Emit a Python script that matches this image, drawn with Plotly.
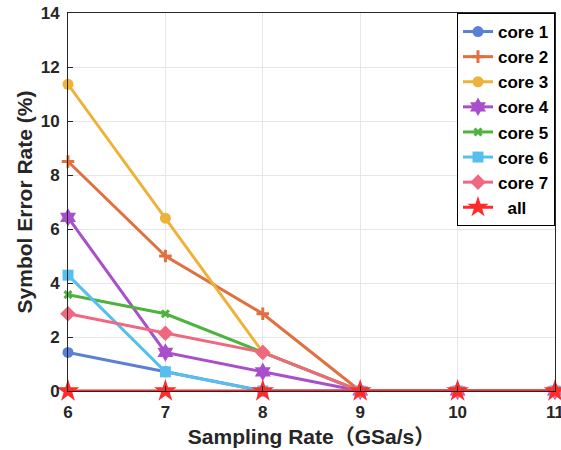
import plotly.graph_objects as go

x = [6, 7, 8, 9, 10, 11]
names = ["core 1", "core 2", "core 3", "core 4", "core 5", "core 6", "core 7", "  all"]
core1 = [1.43, 0.71, 0.0, 0.0, 0.0, 0.0]
core2 = [8.50, 5.00, 2.86, 0.0, 0.0, 0.0]
core3 = [11.36, 6.40, 1.43, 0.0, 0.0, 0.0]
core4 = [6.43, 1.43, 0.71, 0.0, 0.0, 0.0]
core5 = [3.57, 2.86, 1.43, 0.0, 0.0, 0.0]
core6 = [4.29, 0.71, 0.0, 0.0, 0.0, 0.0]
core7 = [2.86, 2.14, 1.43, 0.0, 0.0, 0.0]
all_cores = [0.0, 0.0, 0.0, 0.0, 0.0, 0.0]
series = [core1, core2, core3, core4, core5, core6, core7, all_cores]

colors = ["#5a7fd6", "#e0703f", "#ecb23a", "#a94fcb", "#4db33d", "#56bfee", "#f0687f", "#ff2a2a"]
symbols = ["circle", "cross-thin", "circle", "hexagram", "x-thin", "square", "diamond", "star"]
sizes = [11, 9, 11, 14, 7, 11, 12, 17]

fig = go.Figure()
for n, y, c, s, sz in zip(names, series, colors, symbols, sizes):
    fig.add_trace(go.Scatter(
        x=x, y=y, name=n, mode="lines+markers",
        line=dict(color=c, width=3),
        marker=dict(symbol=s, size=sz, color=c, line=dict(color=c, width=3 if "thin" in s else 0)),
        cliponaxis=False,
    ))

font_fam = "Liberation Sans, Arial, Noto Sans CJK SC, sans-serif"
fig.update_layout(
    width=561, height=450,
    margin=dict(l=68, r=6, t=13, b=59, autoexpand=False),
    paper_bgcolor="white", plot_bgcolor="white",
    font=dict(family=font_fam, size=16, color="#262626"),
    showlegend=True,
    legend=dict(
        x=1, y=1, xanchor="right", yanchor="top",
        bordercolor="black", borderwidth=1, bgcolor="white",
        font=dict(family=font_fam, size=17, color="black", weight="bold"),
        tracegroupgap=0, itemwidth=30,
    ),
    xaxis=dict(
        range=[6, 11], tickvals=x, ticktext=[str(v) for v in x],
        showgrid=True, gridcolor="#e6e6e6", gridwidth=1,
        showline=True, linecolor="#262626", linewidth=1, mirror=True,
        ticks="inside", ticklen=5, tickcolor="#262626",
        ticklabeloverflow="allow", ticklabelstandoff=6, automargin=False,
        tickfont=dict(size=17, weight="bold", color="#262626"),
        title=dict(text="Sampling Rate\uff08GSa/s\uff09", font=dict(size=21, weight="bold", color="#262626"), standoff=7),
        zeroline=False,
    ),
    yaxis=dict(
        range=[0, 14], tickvals=[0, 2, 4, 6, 8, 10, 12, 14],
        showgrid=True, gridcolor="#e6e6e6", gridwidth=1,
        showline=True, linecolor="#262626", linewidth=1, mirror=True,
        ticks="inside", ticklen=5, tickcolor="#262626",
        ticklabelstandoff=4, automargin=False,
        tickfont=dict(size=17, weight="bold", color="#262626"),
        title=dict(text="Symbol Error Rate (%)", font=dict(size=21, weight="bold", color="#262626"), standoff=2),
        zeroline=False,
    ),
)

fig.write_html("out.html")
